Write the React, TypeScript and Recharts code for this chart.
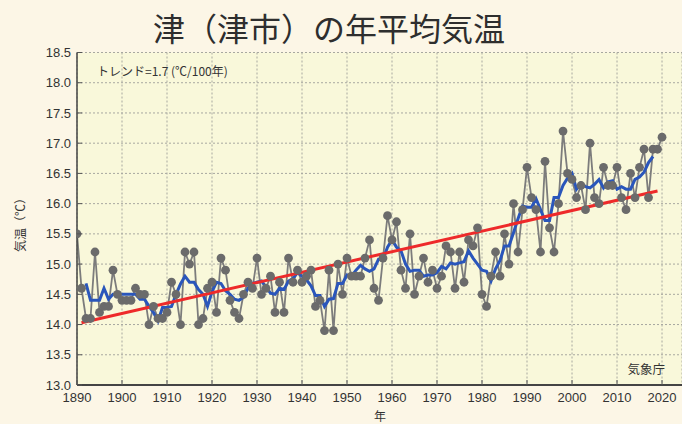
import React from 'react';
import { ComposedChart, Line, XAxis, YAxis, CartesianGrid } from 'recharts';

// ---- data ----
const START_YEAR = 1890;
const annualTemp = [
  15.5, 14.6, 14.1, 14.1, 15.2, 14.2, 14.3, 14.3, 14.9, 14.5, // 1890s
  14.4, 14.4, 14.4, 14.6, 14.5, 14.5, 14.0, 14.3, 14.1, 14.1, // 1900s
  14.2, 14.7, 14.5, 14.0, 15.2, 15.0, 15.2, 14.0, 14.1, 14.6, // 1910s
  14.7, 14.2, 15.1, 14.9, 14.4, 14.2, 14.1, 14.5, 14.7, 14.6, // 1920s
  15.1, 14.5, 14.6, 14.8, 14.2, 14.7, 14.2, 15.1, 14.7, 14.9, // 1930s
  14.7, 14.8, 14.9, 14.3, 14.4, 13.9, 14.9, 13.9, 15.0, 14.5, // 1940s
  15.1, 14.8, 14.8, 14.8, 15.1, 15.4, 14.6, 14.4, 15.1, 15.8, // 1950s
  15.4, 15.7, 14.9, 14.6, 15.5, 14.5, 14.8, 15.1, 14.7, 14.9, // 1960s
  14.6, 14.8, 15.3, 15.2, 14.6, 15.2, 14.7, 15.4, 15.3, 15.6, // 1970s
  14.5, 14.3, 14.8, 15.2, 14.8, 15.5, 15.0, 16.0, 15.2, 15.9, // 1980s
  16.6, 16.1, 15.9, 15.2, 16.7, 15.6, 15.2, 16.0, 17.2, 16.5, // 1990s
  16.4, 16.1, 16.3, 15.9, 17.0, 16.1, 16.0, 16.6, 16.3, 16.3, // 2000s
  16.6, 16.1, 15.9, 16.5, 16.1, 16.6, 16.9, 16.1, 16.9, 16.9, // 2010s
  17.1, // 2020
];

const AVG_START_YEAR = 1892;
const movingAvg = [
  14.68, 14.4, 14.4, 14.4, 14.6, 14.42, 14.5, 14.5, // 1892-1899
  14.5, 14.5, 14.5, 14.5, 14.42, 14.42, 14.3, 14.2, 14.06, 14.28,
  14.28, 14.3, 14.5, 14.67, 14.8, 14.7, 14.7, 14.58, 14.5, 14.3,
  14.54, 14.7, 14.68, 14.56, 14.5, 14.42, 14.4, 14.45, 14.6, 14.68,
  14.7, 14.72, 14.62, 14.52, 14.5, 14.6, 14.58, 14.72, 14.76, 14.86,
  14.8, 14.74, 14.64, 14.48, 14.48, 14.3, 14.42, 14.43, 14.68, 14.68,
  14.82, 14.8, 14.9, 14.98, 14.92, 14.88, 14.92, 15.08, 15.08, 15.28,
  15.4, 15.28, 15.22, 15.0, 14.88, 14.9, 14.9, 14.8, 14.82, 14.82,
  14.86, 14.96, 14.92, 15.02, 15.0, 15.02, 15.04, 15.22, 15.1, 15.0,
  14.9, 14.88, 14.72, 14.92, 15.06, 15.3, 15.3, 15.52, 15.75, 15.96,
  15.94, 15.94, 16.08, 15.9, 15.72, 15.72, 16.1, 16.1, 16.3, 16.42,
  16.5, 16.24, 16.34, 16.28, 16.26, 16.32, 16.4, 16.26, 16.36, 16.38,
  16.24, 16.28, 16.24, 16.24, 16.4, 16.44, 16.52, 16.68, 16.78, // 2010-2018
];

const trendYears = [1891, 2019];
const trendValues = [14.03, 16.21];

const xTicks = [1890, 1900, 1910, 1920, 1930, 1940, 1950, 1960, 1970, 1980, 1990, 2000, 2010, 2020];
const yTicks = [13.0, 13.5, 14.0, 14.5, 15.0, 15.5, 16.0, 16.5, 17.0, 17.5, 18.0, 18.5];
const yTickLabels = ['13.0', '13.5', '14.0', '14.5', '15.0', '15.5', '16.0', '16.5', '17.0', '17.5', '18.0', '18.5'];

const TITLE = '津（津市）の年平均気温';
const TREND_LABEL = 'トレンド=1.7 (℃/100年)';
const SOURCE_LABEL = '気象庁';
const X_LABEL = '年';
const Y_LABEL = '気温（℃）';

// ---- table for the library ----
const rows = annualTemp.map((t, i) => {
  const year = START_YEAR + i;
  const ai = year - AVG_START_YEAR;
  const ti = trendYears.indexOf(year);
  return {
    year,
    temp: t,
    avg: ai >= 0 && ai < movingAvg.length ? movingAvg[ai] : null,
    trend: ti >= 0 ? trendValues[ti] : null,
  };
});

// ---- styles ----
const W = 682;
const H = 424;
const BG = '#fcf6e6';
const PLOT_BG = '#f9f8da';
const TEXT = '#333333';
const NUM_FONT = '"Liberation Sans", Arial, sans-serif';
const JP_FONT = '"Noto Sans CJK JP", "Noto Sans", sans-serif';
const X_GAP = 8;
const Y_GAP = 6;

function BottomTick(props: any) {
  const { x, y, payload } = props;
  const axisY = y - X_GAP;
  return (
    <g>
      <line x1={x} x2={x} y1={axisY} y2={axisY - 5} stroke="#555" strokeWidth={1} />
      <text x={x} y={y} dy="0.71em" textAnchor="middle" fontSize={13} fontFamily={NUM_FONT} fill={TEXT}>
        {payload.value}
      </text>
    </g>
  );
}

function TopTick(props: any) {
  const { x, y } = props;
  return <line x1={x} x2={x} y1={y} y2={y + 5} stroke="#555" strokeWidth={1} />;
}

function LeftTick(props: any) {
  const { x, y, payload } = props;
  const axisX = x + Y_GAP;
  const idx = yTicks.indexOf(payload.value);
  const label = idx >= 0 ? yTickLabels[idx] : String(payload.value);
  return (
    <g>
      <line x1={axisX} x2={axisX + 5} y1={y} y2={y} stroke="#555" strokeWidth={1} />
      <text x={x} y={y} dy="0.355em" textAnchor="end" fontSize={13} fontFamily={NUM_FONT} fill={TEXT}>
        {label}
      </text>
    </g>
  );
}

export default function App() {
  return (
    <div style={{ position: 'absolute', left: 0, top: 0, width: W, height: H, background: BG, overflow: 'hidden' }}>
      <ComposedChart width={W} height={H} data={rows} margin={{ top: 52.5, right: 0, bottom: 0, left: 0 }}>
        <CartesianGrid stroke="#a8a8a0" strokeDasharray="2 2" fill={PLOT_BG} fillOpacity={1} />
        <XAxis
          dataKey="year"
          type="number"
          domain={[1890, 2024.44]}
          allowDataOverflow
          ticks={xTicks}
          interval={0}
          height={39}
          tickSize={0}
          tickMargin={X_GAP}
          axisLine={{ stroke: '#444', strokeWidth: 2 }}
          tickLine={false}
          tick={BottomTick}
        />
        <XAxis
          xAxisId="top"
          orientation="top"
          dataKey="year"
          type="number"
          domain={[1890, 2024.44]}
          allowDataOverflow
          ticks={xTicks}
          interval={0}
          height={0}
          tickSize={0}
          tickMargin={0}
          axisLine={false}
          tickLine={false}
          tick={TopTick}
        />
        <YAxis
          type="number"
          domain={[13, 18.5]}
          allowDataOverflow
          ticks={yTicks}
          interval={0}
          width={77}
          tickSize={0}
          tickMargin={Y_GAP}
          axisLine={{ stroke: '#444', strokeWidth: 1.5 }}
          tickLine={false}
          tick={LeftTick}
        />
        <Line
          dataKey="temp"
          stroke="#7c7c7c"
          strokeWidth={1.8}
          dot={{ r: 4.4, fill: '#6b6b6b', stroke: 'none' }}
          isAnimationActive={false}
        />
        <Line dataKey="avg" stroke="#2a56bb" strokeWidth={3} dot={false} isAnimationActive={false} />
        <Line dataKey="trend" stroke="#ee2a2a" strokeWidth={3} dot={false} connectNulls isAnimationActive={false} />
      </ComposedChart>
      <svg width={W} height={H} style={{ position: 'absolute', left: 0, top: 0, pointerEvents: 'none' }}>
        <text x={329} y={27} textAnchor="middle" dominantBaseline="central" fontSize={32} fontFamily={JP_FONT} fill="#2e2e2e">
          {TITLE}
        </text>
        <text x={97} y={70} dominantBaseline="central" fontSize={12} fontFamily={JP_FONT} fill={TEXT}>
          {TREND_LABEL}
        </text>
        <text x={665} y={368} textAnchor="end" dominantBaseline="central" fontSize={12.5} fontFamily={JP_FONT} fill={TEXT}>
          {SOURCE_LABEL}
        </text>
        <text x={380} y={415} textAnchor="middle" dominantBaseline="central" fontSize={12} fontFamily={JP_FONT} fill={TEXT}>
          {X_LABEL}
        </text>
        <text
          x={19}
          y={222}
          textAnchor="middle"
          dominantBaseline="central"
          fontSize={12}
          fontFamily={JP_FONT}
          fill={TEXT}
          transform="rotate(-90 19 222)"
        >
          {Y_LABEL}
        </text>
      </svg>
    </div>
  );
}
